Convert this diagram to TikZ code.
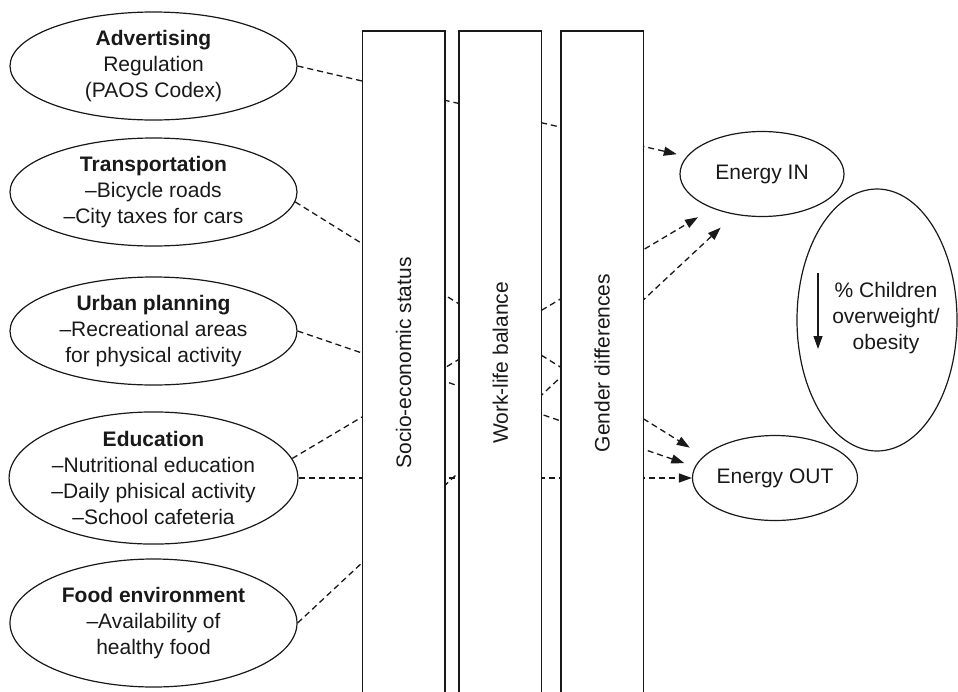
\documentclass[tikz,border=0pt]{standalone}
\usepackage{fontspec}
\setmainfont{Liberation Sans}
\usetikzlibrary{arrows.meta, shapes.geometric}

\begin{document}
\begin{tikzpicture}[x=1pt, y=-1pt, >={Triangle[length=13pt, width=9pt]},
  every node/.style={font=\fontsize{21}{26}\selectfont, text=black!90},
  lever/.style={draw=black!90, ellipse, line width=1.2pt, minimum width=287pt, minimum height=108pt, inner sep=0pt, align=center},
  energy/.style={draw=black!90, ellipse, line width=1.2pt, minimum width=164pt, minimum height=85pt, inner sep=0pt},
  bar/.style={draw=black!90, fill=white, line width=1.5pt, rotate=90, minimum width=664pt, minimum height=82.5pt, inner sep=0pt},
  link/.style={->, draw=black!90, dash pattern=on 6pt off 4pt, line width=1.3pt}]
\useasboundingbox (0,0) rectangle (958,691);
% policy levers
\node[lever] (adv) at (153.5,66) {\textbf{Advertising}\\Regulation\\(PAOS Codex)};
\node[lever] (tra) at (153.5,192) {\textbf{Transportation}\\–Bicycle roads\\–City taxes for cars};
\node[lever] (urb) at (153.5,331) {\textbf{Urban planning}\\–Recreational areas\\for physical activity};
\node[lever, minimum height=128pt] (edu) at (153.5,478) {\textbf{Education}\\–Nutritional education\\–Daily phisical activity\\–School cafeteria};
\node[lever, minimum height=128pt] (food) at (153.5,623) {\textbf{Food environment}\\–Availability of\\healthy food};
% balance
\node[energy] (ein) at (762,174) {Energy IN};
\node[energy] (eout) at (775,478) {Energy OUT};
\node[energy, minimum width=160pt, minimum height=262pt] (obes) at (877,320) {};
\node[align=center] (obestxt) at (886,318) {\% Children\\overweight/\\obesity};
\coordinate (dtop) at (818,273); \coordinate (dbot) at (818,349);
\draw[->, draw=black!90, line width=1.2pt] (dtop) -- (dbot);
% links (behind the bars)
\draw[link, shorten >=10pt] (adv.east) -- (ein);
\draw[link, shorten >=16pt] (tra.-4) -- (eout.163);
\draw[link, shorten >=11pt] (urb.east) -- (eout.172);
\draw[link, shorten >=17pt] (edu.8) -- (ein.215);
\draw[link] (edu.east) -- (eout.west);
\draw[link, shorten >=19pt] (food.east) -- (ein.236);
% moderators
\node[bar] (ses) at (403.5,363) {Socio-economic status};
\node[bar] (wlb) at (500.3,363) {Work-life balance};
\node[bar] (gen) at (602,363) {Gender differences};
\end{tikzpicture}
\end{document}
